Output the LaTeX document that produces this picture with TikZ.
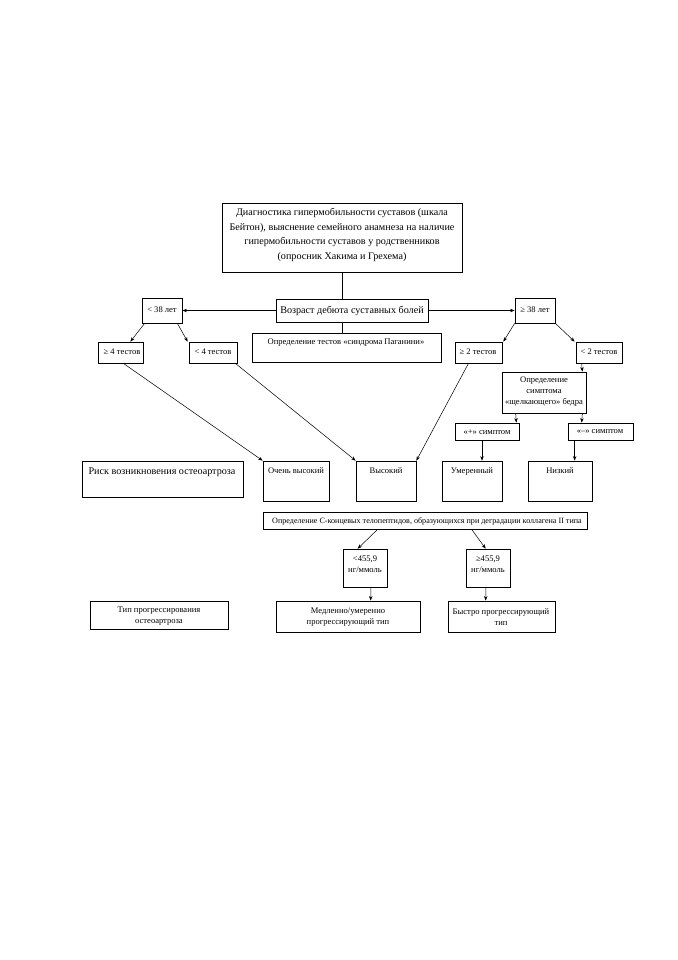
\documentclass[tikz,border=0pt]{standalone}
\usepackage{fontspec}
\setmainfont{Liberation Serif}
\usetikzlibrary{fit,calc,arrows.meta}
\tikzset{
  bx/.style={draw, line width=0.6pt, inner sep=0pt},
  sm/.style={font=\fontsize{7.5}{9.7}\selectfont, align=center, inner sep=0pt},
  xs/.style={font=\fontsize{7.1}{9}\selectfont, align=center, inner sep=0pt},
  bg/.style={font=\fontsize{8.9}{12.7}\selectfont, align=center, inner sep=0pt},
  arr/.style={-{Stealth[length=4pt,width=3pt]}, line width=0.45pt},
  ln/.style={line width=0.45pt}
}
\newcommand\mkbox[5]{\node[bx, fit={(#2,#3) (#4,#5)}] (#1) {};}
\begin{document}
\begin{tikzpicture}[x=0.878pt,y=-0.878pt]
\useasboundingbox (0,0) rectangle (678,960);
% boxes
\mkbox{top}{222}{203}{462}{272}
\mkbox{voz}{276}{299}{428}{322}
\mkbox{pag}{252}{333}{441}{362}
\mkbox{lt38}{142}{298}{182}{323}
\mkbox{ge38}{515}{298}{555}{323}
\mkbox{ge4}{98}{342}{143}{363}
\mkbox{lt4}{189}{342}{237}{363}
\mkbox{ge2}{455}{342}{502}{363}
\mkbox{lt2}{576}{342}{622}{363}
\mkbox{symp}{502}{372}{586}{413}
\mkbox{plus}{455}{423}{519}{440}
\mkbox{minus}{568}{423}{633}{440}
\mkbox{risk}{82}{461}{243}{497}
\mkbox{vh}{263}{461}{329}{501}
\mkbox{hi}{356}{461}{416}{501}
\mkbox{mod}{442}{461}{502}{501}
\mkbox{low}{528}{461}{592}{501}
\mkbox{cbox}{263}{512}{587}{529}
\mkbox{lo}{343}{549}{387}{587}
\mkbox{hitwo}{466}{549}{510}{587}
\mkbox{typ}{90}{601}{228}{629}
\mkbox{slow}{276}{601}{420}{632}
\mkbox{fast}{448}{601}{555}{632}
% texts
\node[bg] (ttop) at (342,235) {Диагностика гипермобильности суставов (шкала\\Бейтон), выяснение семейного анамнеза на наличие\\гипермобильности суставов у родственников\\(опросник Хакима и Грехема)};
\node[bg] (tvoz) at (352,311) {Возраст дебюта суставных болей};
\node[sm] (tpag) at (346,343) {Определение тестов «синдрома Паганини»};
\node[sm] (tlt38) at (162,310) {< 38 лет};
\node[sm] (tge38) at (535,310) {≥ 38 лет};
\node[sm] (tge4) at (122,352) {≥ 4 тестов};
\node[sm] (tlt4) at (213,352) {< 4 тестов};
\node[sm] (tge2) at (478,352) {≥ 2 тестов};
\node[sm] (tlt2) at (599,352) {< 2 тестов};
\node[sm] (tsymp) at (544,392) {Определение\\симптома\\«щелкающего» бедра};
\node[sm] (tplus) at (487,432) {«+» симптом};
\node[sm] (tminus) at (600,432) {«–» симптом};
\node[bg] (trisk) at (162,472) {Риск возникновения остеоартроза};
\node[sm] (tvh) at (296,471) {Очень высокий};
\node[sm] (thi) at (386,471) {Высокий};
\node[sm] (tmod) at (472,471) {Умеренный};
\node[sm] (tlow) at (560,471) {Низкий};
\node[xs] (tcbox) at (427,521) {Определение С-концевых телопептидов, образующихся при деградации коллагена II типа};
\node[sm] (tlo) at (365,564) {<455,9\\нг/ммоль};
\node[sm] (thitwo) at (488,564) {≥455,9\\нг/ммоль};
\node[sm] (ttyp) at (159,616) {Тип прогрессирования\\остеоартроза};
\node[sm] (tslow) at (348,617) {Медленно/умеренно\\прогрессирующий тип};
\node[sm] (tfast) at (501,617) {Быстро прогрессирующий\\тип};
% connectors
\draw[ln] (top.south) -- (top.south |- voz.north);
\draw[ln] (top.south |- voz.south) -- (top.south |- pag.north);
\draw[arr] (voz.west) -- (lt38.east);
\draw[arr] (voz.east) -- (ge38.west);
\draw[arr] ($(lt38.south west)+(3,0)$) -- ($(ge4.north east)+(-13,0)$);
\draw[arr] ($(lt38.south east)+(-5,0)$) -- ($(lt4.north west)+(-1,0)$);
\draw[arr] (ge38.south west) -- ($(ge2.north east)+(1,0)$);
\draw[arr] (ge38.south east) -- ($(lt2.north west)+(-1,0)$);
\draw[arr] ($(ge4.south east)+(-20,0)$) -- (vh.north west);
\draw[arr] ($(lt4.south east)+(-2,0)$) -- (hi.north west);
\draw[arr] ($(ge2.south)+(-10,0)$) -- (hi.north east);
\draw[arr] ($(lt2.south west)+(6,0)$) -- ($(symp.north east)+(-4,0)$);
\draw[arr] ($(symp.south west)+(14,0)$) -- ($(plus.north east)+(-3,0)$);
\draw[arr] ($(symp.south east)+(-4,0)$) -- ($(minus.north west)+(14,0)$);
\draw[arr] ($(plus.south)+(-5,0)$) -- ($(mod.north)+(10,0)$);
\draw[arr] ($(minus.south west)+(7,0)$) -- ($(low.north west)+(47,0)$);
\draw[arr] ($(cbox.south west)+(115,0)$) -- ($(lo.north west)+(15,0)$);
\draw[arr] ($(cbox.south west)+(209,0)$) -- ($(hitwo.north west)+(20,0)$);
\draw[arr] ($(lo.south)+(6,0)$) -- ($(slow.north west)+(95,0)$);
\draw[arr] ($(hitwo.south)+(-2,0)$) -- ($(fast.north west)+(38,0)$);
\end{tikzpicture}
\end{document}
